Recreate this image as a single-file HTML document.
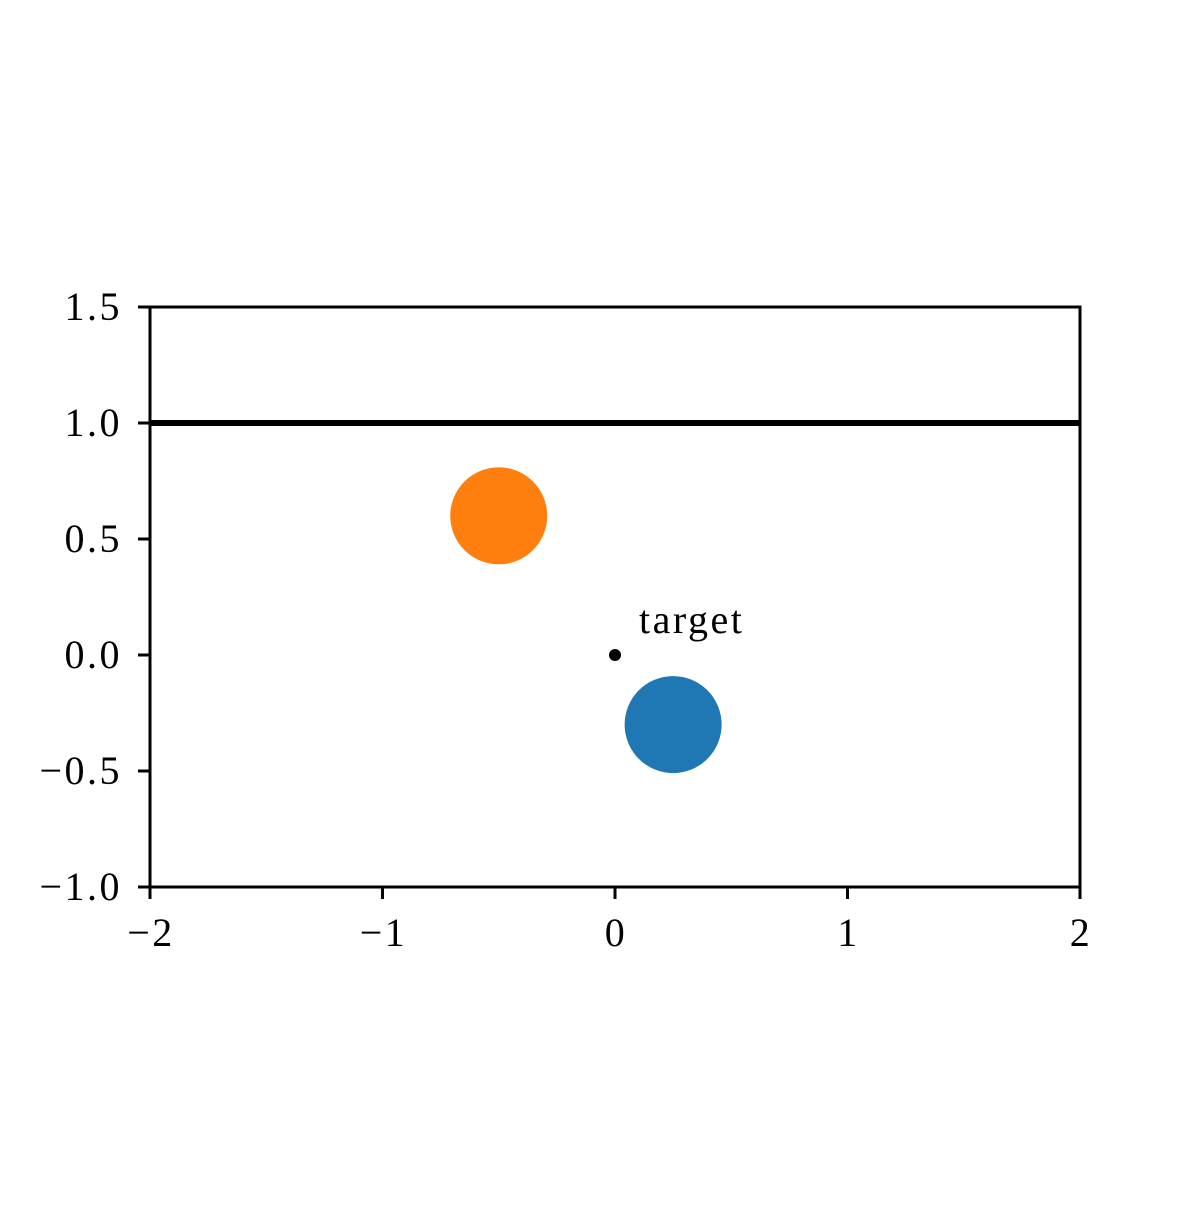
<!DOCTYPE html>
<html><head><meta charset="utf-8">
<style>
html,body{margin:0;padding:0;background:#fff;}
svg text{font-family:"Liberation Serif",serif;font-size:40px;letter-spacing:2.5px;fill:#000;}
</style></head>
<body>
<svg id="chart" width="1200" height="1200" viewBox="0 0 1200 1200">
<g id="plot"></g>
</svg>
<script>
const xTicks=[-2,-1,0,1,2];
const yTicks=[-1.0,-0.5,0.0,0.5,1.0,1.5];
const xTickLabels=["\u22122","\u22121","0","1","2"];
const yTickLabels=["\u22121.0","\u22120.5","0.0","0.5","1.0","1.5"];
const circleX=[-0.5,0.25];
const circleY=[0.6,-0.3];
const circleColors=["#ff7f0e","#1f77b4"];
const circleNames=["orange-circle","blue-circle"];
const targetX=[0];
const targetY=[0];
const hlineY=[1.0];

const L=150,R=1080,T=307,B=887;
const xMin=-2,xMax=2,yMin=-1,yMax=1.5;
const sx=v=>L+(v-xMin)/(xMax-xMin)*(R-L);
const sy=v=>B-(v-yMin)/(yMax-yMin)*(B-T);
const NS="http://www.w3.org/2000/svg";
const g=document.getElementById('plot');
function mk(t,a){const e=document.createElementNS(NS,t);for(const k in a)e.setAttribute(k,a[k]);g.appendChild(e);return e;}

hlineY.forEach(v=>{
  const l=mk('line',{x1:L,x2:R,y1:sy(v),y2:sy(v),stroke:'#000','stroke-width':6});
  
  
});
circleX.forEach((v,i)=>{
  const c=mk('circle',{cx:sx(v),cy:sy(circleY[i]),r:48.5,fill:circleColors[i]});
  
  
});
targetX.forEach((v,i)=>{
  const c=mk('circle',{cx:sx(v),cy:sy(targetY[i]),r:6,fill:'#000'});
  
  
  const t=mk('text',{x:sx(v)+24,y:sy(targetY[i])-22});
  t.textContent='target';
  
  
});
const frame=mk('rect',{x:L,y:T,width:R-L,height:B-T,fill:'none',stroke:'#000','stroke-width':3});


xTicks.forEach((v,i)=>{
  const l=mk('line',{x1:sx(v),x2:sx(v),y1:B,y2:B+12,stroke:'#000','stroke-width':3});
  
  
  const t=mk('text',{x:sx(v)+1,y:B+59,'text-anchor':'middle'});
  t.textContent=xTickLabels[i];
  
  
});
yTicks.forEach((v,i)=>{
  const l=mk('line',{x1:L-12,x2:L,y1:sy(v),y2:sy(v),stroke:'#000','stroke-width':3});
  
  
  const t=mk('text',{x:L-28,y:sy(v)+13,'text-anchor':'end'});
  t.textContent=yTickLabels[i];
  
  
});
</script>
</body></html>
